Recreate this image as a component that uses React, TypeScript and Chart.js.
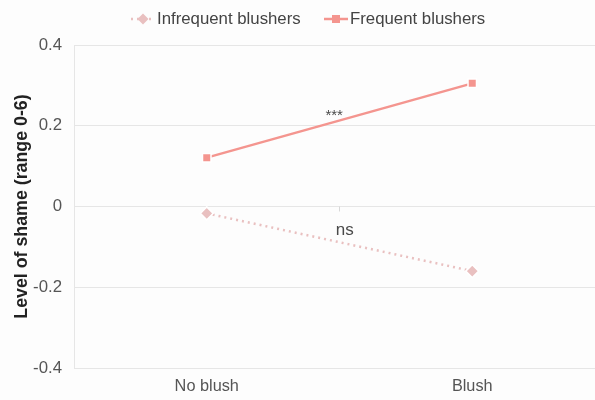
import React, { useEffect, useRef } from "react";
import { Chart, registerables } from "chart.js";

Chart.register(...registerables);

const categories = ["No blush", "Blush"];
const infrequent = [-0.017, -0.16];
const frequent = [0.121, 0.305];
const yTicks = [0.4, 0.2, 0, -0.2, -0.4];
const seriesNames = ["Infrequent blushers", "Frequent blushers"];
const annotations = [
  { text: "***", x: 0.48, y: 0.225, size: 15 },
  { text: "ns", x: 0.52, y: -0.058, size: 17 },
];

const FONT = "'Liberation Sans', Arial, Helvetica, sans-serif";
const C_FREQ = "#f4958f";
const C_INF = "#e9c0c0";

const legendPlugin = {
  id: "customLegend",
  afterDraw(chart: any) {
    const ctx = chart.ctx;
    ctx.save();
    ctx.font = `16.8px ${FONT}`;
    ctx.fillStyle = "#444";
    ctx.textBaseline = "middle";
    const y = 19;
    // Infrequent
    ctx.strokeStyle = C_INF;
    ctx.lineWidth = 2.5;
    ctx.setLineDash([2, 4]);
    ctx.beginPath();
    ctx.moveTo(131, y);
    ctx.lineTo(154, y);
    ctx.stroke();
    ctx.setLineDash([]);
    ctx.fillStyle = C_INF;
    ctx.beginPath();
    ctx.moveTo(143, y - 5.5);
    ctx.lineTo(148.5, y);
    ctx.lineTo(143, y + 5.5);
    ctx.lineTo(137.5, y);
    ctx.closePath();
    ctx.fill();
    ctx.fillStyle = "#444";
    ctx.textAlign = "left";
    ctx.fillText(seriesNames[0], 157, y);
    // Frequent
    ctx.strokeStyle = C_FREQ;
    ctx.lineWidth = 2.5;
    ctx.beginPath();
    ctx.moveTo(324, y);
    ctx.lineTo(348, y);
    ctx.stroke();
    ctx.fillStyle = C_FREQ;
    ctx.fillRect(332, y - 4, 8, 8);
    ctx.fillStyle = "#444";
    ctx.fillText(seriesNames[1], 350, y);
    ctx.restore();
  },
};

const annotationPlugin = {
  id: "annots",
  afterDatasetsDraw(chart: any) {
    const ctx = chart.ctx;
    const xs = chart.scales.x;
    const ys = chart.scales.y;
    ctx.save();
    ctx.fillStyle = "#4a4a4a";
    ctx.textAlign = "center";
    ctx.textBaseline = "middle";
    for (const a of annotations) {
      ctx.font = `${a.size}px ${FONT}`;
      ctx.fillText(a.text, xs.getPixelForValue(a.x), ys.getPixelForValue(a.y));
    }
    // small tick at centre of zero line
    const cx = (chart.chartArea.left + chart.chartArea.right) / 2;
    const zy = ys.getPixelForValue(0);
    ctx.strokeStyle = "#d8d8d8";
    ctx.lineWidth = 1;
    ctx.beginPath();
    ctx.moveTo(cx, zy);
    ctx.lineTo(cx, zy + 5);
    ctx.stroke();
    ctx.restore();
  },
};

const bgPlugin = {
  id: "bg",
  beforeDraw(chart: any) {
    const ctx = chart.ctx;
    ctx.save();
    ctx.fillStyle = "#fdfdfd";
    ctx.fillRect(0, 0, chart.width, chart.height);
    ctx.restore();
  },
};

export default function App() {
  const ref = useRef<HTMLCanvasElement>(null);
  useEffect(() => {
    if (!ref.current) return;
    const chart = new Chart(ref.current, {
      type: "line",
      data: {
        labels: categories,
        datasets: [
          {
            label: seriesNames[0],
            data: infrequent,
            borderColor: C_INF,
            backgroundColor: C_INF,
            borderWidth: 2.5,
            borderDash: [2, 4],
            pointStyle: "rectRot",
            pointRadius: 6.5,
            pointBorderColor: "#ffffff",
            pointBorderWidth: 1.5,
          },
          {
            label: seriesNames[1],
            data: frequent,
            borderColor: C_FREQ,
            backgroundColor: C_FREQ,
            borderWidth: 2.5,
            pointStyle: "rect",
            pointRadius: 6,
            pointBorderColor: "#ffffff",
            pointBorderWidth: 1.5,
          },
        ],
      },
      options: {
        animation: false,
        responsive: false,
        devicePixelRatio: 1,
        layout: { padding: { top: 45, left: 0, right: 0, bottom: 0 } },
        plugins: { legend: { display: false }, tooltip: { enabled: false } },
        scales: {
          x: {
            offset: true,
            grid: { display: false },
            border: { display: false },
            ticks: { color: "#555", font: { family: FONT, size: 16.3 }, padding: 1 },
            afterFit(scale: any) {
              scale.height = 32;
            },
          },
          y: {
            min: -0.4,
            max: 0.4,
            afterBuildTicks(scale: any) {
              scale.ticks = yTicks.map((v) => ({ value: v }));
            },
            ticks: {
              color: "#555",
              font: { family: FONT, size: 16.8 },
              padding: 12,
              callback: (v: any) => (Number(v) === 0 ? "0" : String(v)),
            },
            grid: { color: "#e6e6e6", lineWidth: 1, drawTicks: false },
            border: { display: true, color: "#e6e6e6" },
            title: {
              display: true,
              text: "Level of shame (range 0-6)",
              color: "#222",
              font: { family: FONT, size: 17.8, weight: "bold" },
              padding: { top: 11, bottom: 0 },
            },
            afterFit(scale: any) {
              scale.width = 74;
            },
          },
        },
      },
      plugins: [bgPlugin, annotationPlugin, legendPlugin],
    });
    return () => chart.destroy();
  }, []);
  return (
    <div
      style={{
        position: "fixed",
        left: 0,
        top: 0,
        width: 595,
        height: 400,
        overflow: "hidden",
        background: "#fdfdfd",
      }}
    >
      <canvas ref={ref} width={613} height={400} style={{ width: 613, height: 400, display: "block" }} />
    </div>
  );
}
